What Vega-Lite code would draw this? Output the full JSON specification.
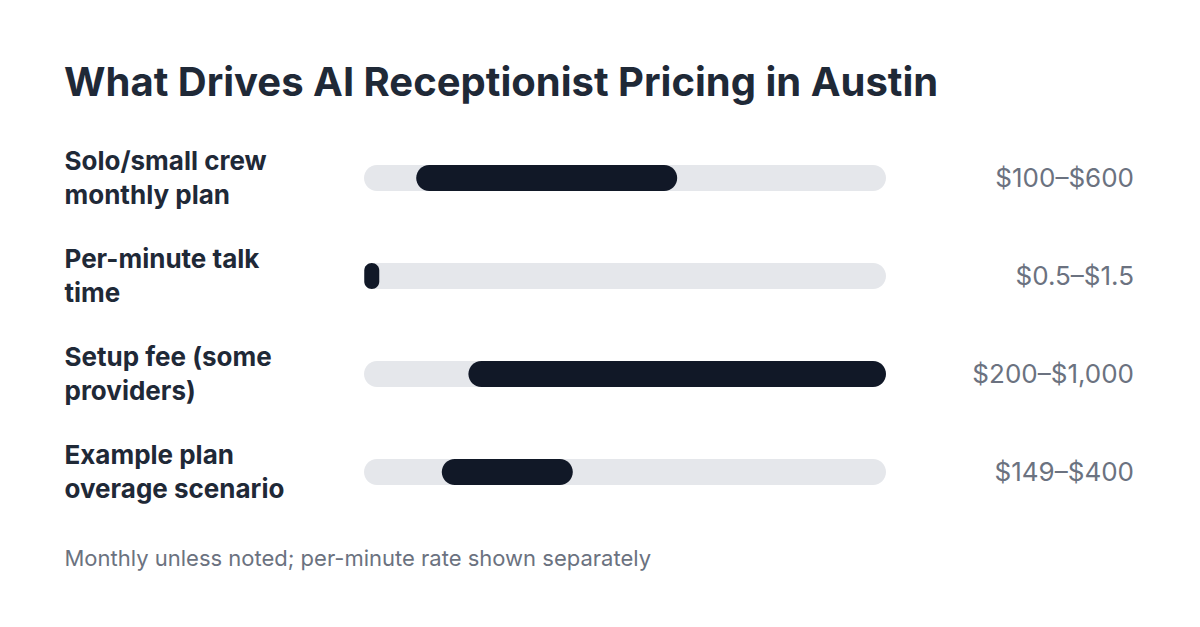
{
  "$schema": "https://vega.github.io/schema/vega-lite/v6.json",
  "width": 522,
  "height": 392,
  "autosize": {"type": "none"},
  "padding": {"left": 364, "top": 129, "right": 314, "bottom": 106},
  "background": "#ffffff",
  "title": {
    "text": "What Drives AI Receptionist Pricing in Austin",
    "anchor": "start",
    "frame": "group",
    "dx": -300,
    "dy": 39,
    "offset": 32,
    "baseline": "alphabetic",
    "font": "Inter",
    "fontSize": 40,
    "fontWeight": 700,
    "color": "#1f2937"
  },
  "data": {
    "values": [
      {"item": "Solo/small crew\nmonthly plan", "lo": 100, "hi": 600, "range": "$100–$600"},
      {"item": "Per-minute talk\ntime", "lo": 0.5, "hi": 1.5, "range": "$0.5–$1.5"},
      {"item": "Setup fee (some\nproviders)", "lo": 200, "hi": 1000, "range": "$200–$1,000"},
      {"item": "Example plan\noverage scenario", "lo": 149, "hi": 400, "range": "$149–$400"}
    ]
  },
  "encoding": {
    "y": {
      "field": "item",
      "type": "nominal",
      "sort": null,
      "scale": {"paddingInner": 0, "paddingOuter": 0},
      "axis": {
        "orient": "left",
        "title": null,
        "domain": false,
        "ticks": false,
        "labelAlign": "left",
        "labelBaseline": "middle",
        "labelPadding": 300,
        "labelOffset": -16,
        "labelFont": "Inter",
        "labelFontSize": 26,
        "labelFontWeight": 700,
        "labelColor": "#1f2937",
        "labelLineHeight": 34,
        "labelLimit": 0,
        "labelExpr": "split(datum.label, '\\n')"
      }
    }
  },
  "layer": [
    {
      "mark": {"type": "bar", "height": 26, "cornerRadius": 13, "color": "#e5e7eb"},
      "encoding": {
        "x": {
          "datum": 0,
          "type": "quantitative",
          "scale": {"domain": [0, 1000], "nice": false, "zero": false},
          "axis": {
            "title": "Monthly unless noted; per-minute rate shown separately",
            "labels": false,
            "ticks": false,
            "domain": false,
            "grid": false,
            "titleAnchor": "start",
            "titleAlign": "left",
            "titleBaseline": "alphabetic",
            "titleX": -300,
            "titleY": 44,
            "titleFont": "Inter",
            "titleFontSize": 22,
            "titleFontWeight": 400,
            "titleColor": "#6b7280"
          }
        },
        "x2": {"datum": 1000}
      }
    },
    {
      "transform": [{"filter": "datum.hi - datum.lo >= 5"}],
      "mark": {"type": "bar", "height": 26, "cornerRadius": 13, "color": "#111827"},
      "encoding": {
        "x": {"field": "lo", "type": "quantitative"},
        "x2": {"field": "hi"}
      }
    },
    {
      "transform": [{"filter": "datum.hi - datum.lo < 5"}],
      "mark": {
        "type": "point",
        "filled": true,
        "opacity": 1,
        "size": 676,
        "color": "#111827",
        "shape": "M0,-0.423 A0.577,0.577 0 0 1 1.154,-0.423 L1.154,0.423 A0.577,0.577 0 0 1 0,0.423 Z"
      },
      "encoding": {
        "x": {"field": "lo", "type": "quantitative"}
      }
    },
    {
      "mark": {
        "type": "text",
        "align": "right",
        "baseline": "middle",
        "dx": 248,
        "dy": 1,
        "font": "Inter",
        "fontSize": 26,
        "fontWeight": 400,
        "color": "#6b7280"
      },
      "encoding": {
        "x": {"datum": 1000, "type": "quantitative"},
        "text": {"field": "range", "type": "nominal"}
      }
    }
  ],
  "config": {
    "view": {"stroke": null}
  }
}
